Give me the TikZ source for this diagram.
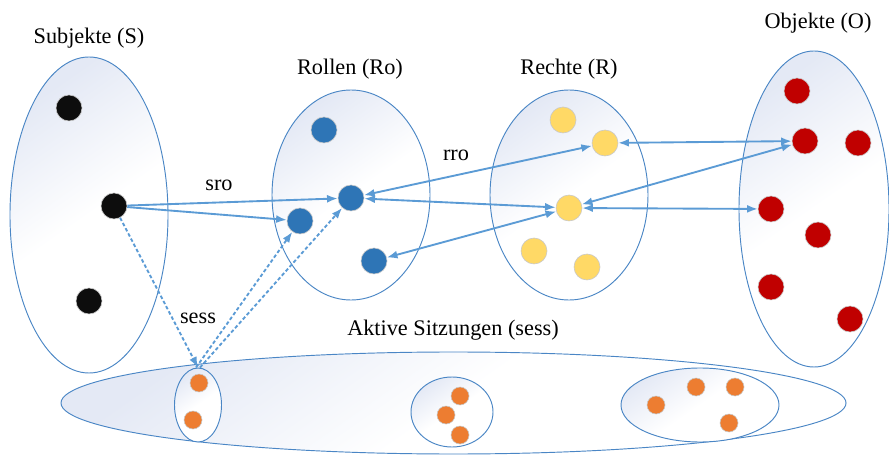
\documentclass[tikz,border=0pt]{standalone}
\usepackage{fontspec}
\setmainfont{Liberation Serif}
\usetikzlibrary{shapes.geometric,arrows.meta}
\definecolor{edgeblue}{HTML}{4A86C5}
\definecolor{arrowblue}{HTML}{5B9BD5}
\definecolor{fillblue}{HTML}{E4E9F5}
\definecolor{dotblack}{HTML}{0D0D0D}
\definecolor{dotblue}{HTML}{2E75B6}
\definecolor{dotyellow}{HTML}{FFD966}
\definecolor{dotred}{HTML}{C00000}
\definecolor{dotorange}{HTML}{ED7D31}
\definecolor{dotrim}{HTML}{C8C8C8}
\tikzset{
  setell/.style={ellipse, draw=edgeblue, line width=0.8pt, inner sep=0pt,
    top color=fillblue, bottom color=white, middle color=white, shading angle=35},
  dotbase/.style={circle, draw=dotrim, line width=0.5pt, inner sep=0pt, minimum size=0.78cm},
  bdot/.style={dotbase, fill=dotblack},
  udot/.style={dotbase, fill=dotblue},
  ydot/.style={dotbase, fill=dotyellow},
  rdot/.style={dotbase, fill=dotred},
  odot/.style={dotbase, fill=dotorange, minimum size=0.54cm},
  lbl/.style={font=\fontsize{19}{22}\selectfont, inner sep=0pt},
  conn/.style={draw=arrowblue, line width=1.6pt, -{Latex[length=3.2mm,width=2.4mm]}},
  dconn/.style={conn, dashed, dash pattern=on 3pt off 2pt},
  bconn/.style={draw=arrowblue, line width=1.6pt, {Latex[length=3.2mm,width=2.4mm]}-{Latex[length=3.2mm,width=2.4mm]}}
}
\begin{document}
\begin{tikzpicture}[x=0.03cm,y=-0.03cm]
\useasboundingbox (0,0) rectangle (889,455);
% big sessions ellipse
\node[setell, minimum width=23.55cm, minimum height=3.06cm] (sessall) at (453.5,403) {};
% set ellipses
\node[setell, minimum width=4.74cm, minimum height=9.48cm] (S) at (89,215) {};
\node[setell, minimum width=4.74cm, minimum height=6.3cm] (Ro) at (351,195) {};
\node[setell, minimum width=4.74cm, minimum height=6.3cm] (R) at (569,195) {};
\node[setell, minimum width=4.5cm, minimum height=9.48cm] (O) at (814,209) {};
% session ellipses
\node[setell, minimum width=1.41cm, minimum height=2.22cm] (s1) at (198,405) {};
\node[setell, minimum width=2.46cm, minimum height=2.1cm] (s2) at (452,412) {};
\node[setell, minimum width=4.74cm, minimum height=2.22cm] (s3) at (700,405) {};
% labels
\node[lbl] (lS) at (89,38) {Subjekte (S)};
\node[lbl] (lRo) at (350,69) {Rollen (Ro)};
\node[lbl] (lR) at (569,69) {Rechte (R)};
\node[lbl] (lO) at (818,23) {Objekte (O)};
\node[lbl] (lsess) at (453,330) {Aktive Sitzungen (sess)};
\node[lbl] (lsro) at (219,185) {sro};
\node[lbl] (lrro) at (456,155) {rro};
\node[lbl] (lss) at (198,318) {sess};
% subjects
\node[bdot] (b1) at (69,108) {};
\node[bdot] (b2) at (114,206) {};
\node[bdot] (b3) at (89,301) {};
% roles
\node[udot] (u1) at (324,130) {};
\node[udot] (u2) at (351,198) {};
\node[udot] (u3) at (300,221) {};
\node[udot] (u4) at (374,261) {};
% rights
\node[ydot] (y1) at (563,120) {};
\node[ydot] (y2) at (605,143) {};
\node[ydot] (y3) at (569,208) {};
\node[ydot] (y4) at (534,251) {};
\node[ydot] (y5) at (587,267) {};
% objects
\node[rdot] (r1) at (797,91) {};
\node[rdot] (r2) at (805,141) {};
\node[rdot] (r3) at (858,143) {};
\node[rdot] (r4) at (771,209) {};
\node[rdot] (r5) at (818,235) {};
\node[rdot] (r6) at (771,287) {};
\node[rdot] (r7) at (850,319) {};
% session dots
\node[odot] (o1) at (199,383) {};
\node[odot] (o2) at (193,420) {};
\node[odot] (o3) at (460,396) {};
\node[odot] (o4) at (446,415) {};
\node[odot] (o5) at (460,435) {};
\node[odot] (o6) at (656,405) {};
\node[odot] (o7) at (696,387) {};
\node[odot] (o8) at (735,387) {};
\node[odot] (o9) at (729,423) {};
% connectors
\draw[conn] (b2) -- (u2);
\draw[conn] (b2) -- (u3);
\draw[dconn] (b2) -- (s1.north);
\draw[dconn] ([xshift=-0.06cm]s1.north) -- (u3);
\draw[dconn] ([xshift=0.06cm]s1.north) -- (u2);
\draw[bconn] (u2) -- (y2);
\draw[bconn] (u2) -- (y3);
\draw[bconn] (u4) -- (y3);
\draw[bconn] (y2) -- (r2);
\draw[bconn] (y3) -- (r2);
\draw[bconn] (y3) -- (r4);
\end{tikzpicture}
\end{document}
